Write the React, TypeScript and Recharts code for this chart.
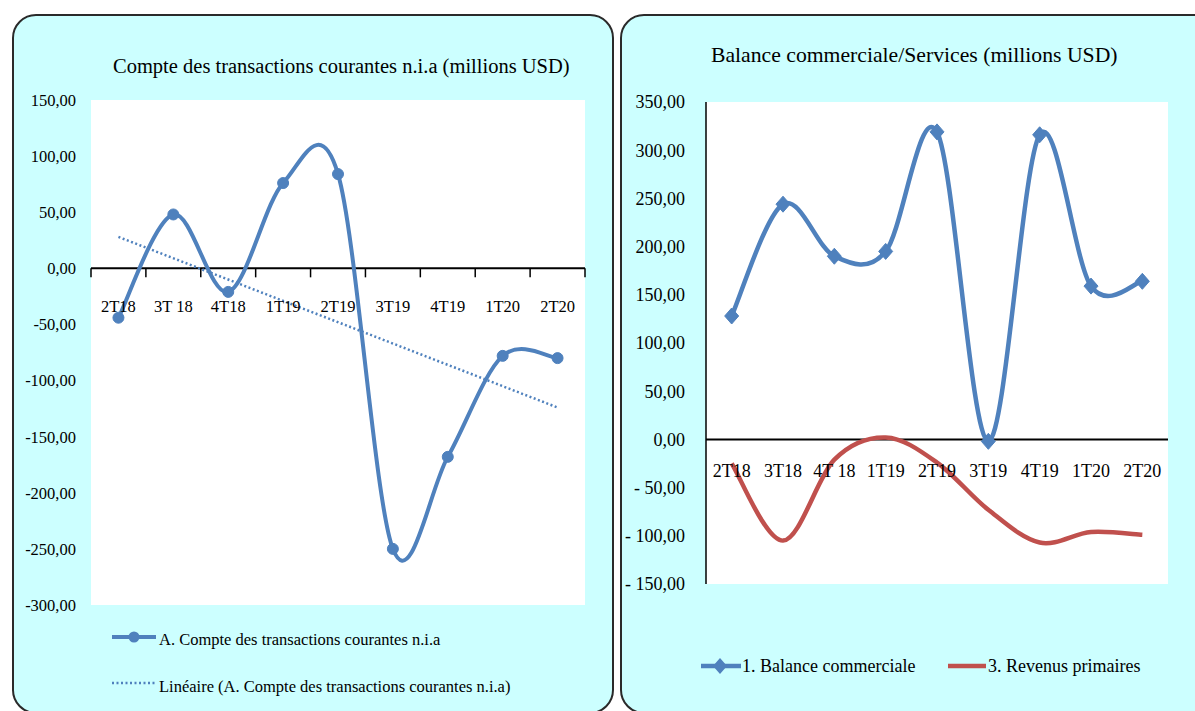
import React from 'react'
import { LineChart, Line, XAxis, YAxis, CartesianGrid, ReferenceLine } from 'recharts'

// left panel: compte des transactions courantes
const leftQuarters = ['2T18', '3T 18', '4T18', '1T19', '2T19', '3T19', '4T19', '1T20', '2T20']
const compteCourant = [-44, 48, -21, 76, 84, -250, -168, -78, -80]
const trendStart = 28
const trendEnd = -124
const leftTicks = [150, 100, 50, 0, -50, -100, -150, -200, -250, -300]

// right panel: balance commerciale / revenus primaires
const rightQuarters = ['2T18', '3T18', '4T 18', '1T19', '2T19', '3T19', '4T19', '1T20', '2T20']
const balanceCommerciale = [128, 244, 190, 195, 319, -2, 316, 159, 164]
const revenusPrimaires = [-25, -105, -21, 2, -24, -73, -107, -96, -99]
const rightTicks = [350, 300, 250, 200, 150, 100, 50, 0, -50, -100, -150]

const leftData = leftQuarters.map((q, i) => ({
  q,
  compte: compteCourant[i],
  trend: i === 0 ? trendStart : i === leftQuarters.length - 1 ? trendEnd : null,
}))

const rightData = rightQuarters.map((q, i) => ({
  q,
  balance: balanceCommerciale[i],
  revenus: revenusPrimaires[i],
}))

const BLUE = '#4F81BD'
const RED = '#C0504D'
const FONT = "'Liberation Serif', 'Times New Roman', serif"

// Excel-like smoothing: cubic bezier with catmull-rom control points (1/6)
const excelSmooth: any = (context: any) => {
  let pts: number[][] = []
  return {
    areaStart() {},
    areaEnd() {},
    lineStart() {
      pts = []
    },
    point(x: number, y: number) {
      pts.push([+x, +y])
    },
    lineEnd() {
      if (!pts.length) return
      context.moveTo(pts[0][0], pts[0][1])
      for (let i = 0; i < pts.length - 1; i++) {
        const p0 = pts[Math.max(i - 1, 0)]
        const p1 = pts[i]
        const p2 = pts[i + 1]
        const p3 = pts[Math.min(i + 2, pts.length - 1)]
        context.bezierCurveTo(
          p1[0] + (p2[0] - p0[0]) / 6,
          p1[1] + (p2[1] - p0[1]) / 6,
          p2[0] - (p3[0] - p1[0]) / 6,
          p2[1] - (p3[1] - p1[1]) / 6,
          p2[0],
          p2[1]
        )
      }
    },
  }
}

const fmtLeft = (v: number) => (v < 0 ? '-' : '') + Math.abs(v).toFixed(2).replace('.', ',')
const fmtRight = (v: number) => (v < 0 ? '- ' : '') + Math.abs(v).toFixed(2).replace('.', ',')

// left chart geometry
const L_W = 600
const L_H = 640
const L_M = { top: 100, right: 15, bottom: 30, left: 11 }
const L_YW = 80
const L_PLOT_W = L_W - L_M.left - L_M.right - L_YW
const L_PLOT_H = L_H - L_M.top - L_M.bottom - 5
const L_HALF = L_PLOT_W / leftQuarters.length / 2
const L_ZERO = (L_PLOT_H * (0 - -300)) / (150 - -300)

// right chart geometry
const R_W = 583
const R_H = 620
const R_M = { top: 102, right: 27, bottom: 31, left: 10 }
const R_YW = 84
const R_PLOT_W = R_W - R_M.left - R_M.right - R_YW
const R_PLOT_H = R_H - R_M.top - R_M.bottom - 5
const R_HALF = R_PLOT_W / rightQuarters.length / 2
const R_ZERO = (R_PLOT_H * (0 - -150)) / (350 - -150)

const LeftTick = (props: any) => {
  const { x, y, payload, index } = props
  const zy = y - L_ZERO
  return (
    <g>
      <line x1={x - L_HALF} x2={x - L_HALF} y1={zy} y2={zy + 9} stroke="#000" strokeWidth={1.5} />
      {index === leftQuarters.length - 1 && (
        <line x1={x + L_HALF} x2={x + L_HALF} y1={zy} y2={zy + 9} stroke="#000" strokeWidth={1.5} />
      )}
      <text x={x} y={zy + 44} textAnchor="middle" fontSize={16.5} fontFamily={FONT} fill="#000">
        {payload.value}
      </text>
    </g>
  )
}

const RightTick = (props: any) => {
  const { x, y, payload } = props
  const zy = y - R_ZERO
  return (
    <text x={x} y={zy + 38} textAnchor="middle" fontSize={18} fontFamily={FONT} fill="#000">
      {payload.value}
    </text>
  )
}

const Circle = (p: any) => <circle key={p.index} cx={p.cx} cy={p.cy} r={5.5} fill={BLUE} stroke={BLUE} />

const Diamond = (p: any) => (
  <polygon
    key={p.index}
    points={`${p.cx},${p.cy - 8} ${p.cx + 7},${p.cy} ${p.cx},${p.cy + 8} ${p.cx - 7},${p.cy}`}
    fill={BLUE}
    stroke={BLUE}
  />
)

const panel = (left: number, width: number): React.CSSProperties => ({
  position: 'absolute',
  left,
  top: 14,
  width,
  height: 700,
  background: '#CCFFFF',
  border: '2px solid #2a2a2a',
  borderRadius: 24,
  boxSizing: 'border-box',
})

const text = (left: number, baseline: number, size: number): React.CSSProperties => ({
  position: 'absolute',
  left,
  top: baseline - 0.9375 * size,
  fontSize: size,
  lineHeight: 1.2,
  fontFamily: FONT,
  whiteSpace: 'nowrap',
  color: '#000',
})

export default function App() {
  return (
    <div style={{ position: 'absolute', left: 0, top: 0, width: 1195, height: 711, background: '#fff', overflow: 'hidden' }}>
      <div style={panel(12, 602)} />
      <div style={panel(620, 600)} />

      <div style={text(113, 73, 20.5)}>Compte des transactions courantes n.i.a (millions USD)</div>
      <div style={text(711, 62.7, 21.7)}>Balance commerciale/Services (millions USD)</div>

      <div style={{ position: 'absolute', left: 0, top: 0 }}>
        <LineChart width={L_W} height={L_H} data={leftData} margin={L_M}>
          <CartesianGrid horizontal={false} vertical={false} fill="#fff" />
          <XAxis
            dataKey="q"
            height={5}
            interval={0}
            axisLine={false}
            tickLine={false}
            tickSize={0}
            tickMargin={0}
            padding={{ left: L_HALF, right: L_HALF }}
            tick={(p: any) => <LeftTick {...p} />}
          />
          <YAxis
            width={L_YW}
            domain={[-300, 150]}
            ticks={leftTicks}
            interval={0}
            axisLine={false}
            tickLine={false}
            tickSize={0}
            tickMargin={15}
            tickFormatter={fmtLeft}
            tick={{ fontSize: 16.5, fontFamily: FONT, fill: '#000' }}
          />
          <ReferenceLine y={0} stroke="#000" strokeWidth={2} />
          <Line
            dataKey="trend"
            type="linear"
            connectNulls
            stroke={BLUE}
            strokeWidth={2.5}
            strokeDasharray="2 2.5"
            dot={false}
            isAnimationActive={false}
          />
          <Line
            dataKey="compte"
            type={excelSmooth}
            stroke={BLUE}
            strokeWidth={4}
            dot={Circle}
            isAnimationActive={false}
          />
        </LineChart>
      </div>

      <div style={{ position: 'absolute', left: 612, top: 0 }}>
        <LineChart width={R_W} height={R_H} data={rightData} margin={R_M}>
          <CartesianGrid horizontal={false} vertical={false} fill="#fff" />
          <XAxis
            dataKey="q"
            height={5}
            interval={0}
            axisLine={false}
            tickLine={false}
            tickSize={0}
            tickMargin={0}
            padding={{ left: R_HALF, right: R_HALF }}
            tick={(p: any) => <RightTick {...p} />}
          />
          <YAxis
            width={R_YW}
            domain={[-150, 350]}
            ticks={rightTicks}
            interval={0}
            axisLine={{ stroke: '#000', strokeWidth: 1.5 }}
            tickLine={false}
            tickSize={0}
            tickMargin={21}
            tickFormatter={fmtRight}
            tick={{ fontSize: 18, fontFamily: FONT, fill: '#000' }}
          />
          <ReferenceLine y={0} stroke="#000" strokeWidth={2} />
          <Line
            dataKey="revenus"
            type={excelSmooth}
            stroke={RED}
            strokeWidth={4.5}
            dot={false}
            isAnimationActive={false}
          />
          <Line
            dataKey="balance"
            type={excelSmooth}
            stroke={BLUE}
            strokeWidth={4.5}
            dot={Diamond}
            isAnimationActive={false}
          />
        </LineChart>
      </div>

      {/* legends */}
      <svg style={{ position: 'absolute', left: 112, top: 630 }} width={44} height={14}>
        <line x1={0} x2={44} y1={7} y2={7} stroke={BLUE} strokeWidth={4} />
        <circle cx={22} cy={7} r={5.5} fill={BLUE} />
      </svg>
      <div style={text(159, 645, 16.5)}>A. Compte des transactions courantes n.i.a</div>
      <svg style={{ position: 'absolute', left: 112, top: 678 }} width={44} height={10}>
        <line x1={0} x2={44} y1={5} y2={5} stroke={BLUE} strokeWidth={2.5} strokeDasharray="2 2.5" />
      </svg>
      <div style={text(159, 692, 16.5)}>Linéaire (A. Compte des transactions courantes n.i.a)</div>

      <svg style={{ position: 'absolute', left: 701, top: 657 }} width={40} height={18}>
        <line x1={0} x2={40} y1={9} y2={9} stroke={BLUE} strokeWidth={4.5} />
        <polygon points="19,1 26,9 19,17 12,9" fill={BLUE} />
      </svg>
      <div style={text(742, 673, 18)}>1. Balance commerciale</div>
      <svg style={{ position: 'absolute', left: 948, top: 660 }} width={38} height={12}>
        <line x1={0} x2={38} y1={6} y2={6} stroke={RED} strokeWidth={4.5} />
      </svg>
      <div style={text(988, 673, 18)}>3. Revenus primaires</div>
    </div>
  )
}
